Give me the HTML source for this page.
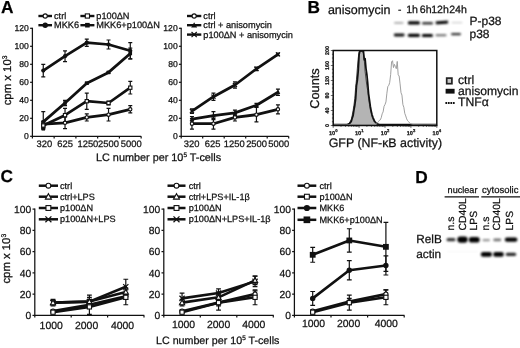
<!DOCTYPE html>
<html><head><meta charset="utf-8"><title>Figure</title>
<style>html,body{margin:0;padding:0;background:#fff;}body{width:520px;height:348px;overflow:hidden;font-family:"Liberation Sans",sans-serif;}svg{display:block;text-rendering:geometricPrecision;}text{stroke:#111;stroke-width:0.25px;}</style></head>
<body>
<svg width="520" height="348" viewBox="0 0 520 348" font-family="Liberation Sans, sans-serif">
<defs><filter id="b1" x="-20%" y="-100%" width="140%" height="300%"><feGaussianBlur stdDeviation="1.1 0.8"/></filter><filter id="b2" x="-20%" y="-100%" width="140%" height="300%"><feGaussianBlur stdDeviation="1.2 1.0"/></filter></defs>
<rect width="520" height="348" fill="#fff"/>
<g style="opacity:0.999">
<text x="0.9" y="12.8" font-size="17.3" text-anchor="start" font-weight="bold" fill="#000">A</text>
<text x="307.5" y="12.7" font-size="17.3" text-anchor="start" font-weight="bold" fill="#000">B</text>
<text x="0.6" y="182.3" font-size="17.3" text-anchor="start" font-weight="bold" fill="#000">C</text>
<text x="415.2" y="182.5" font-size="17.3" text-anchor="start" font-weight="bold" fill="#000">D</text>
<path d="M32.4 27.70000000000001 L32.4 136.3 L141.15 136.3" stroke="#111" stroke-width="1.25" fill="none"/>
<path d="M30.099999999999998 136.30 L32.4 136.30" stroke="#111" stroke-width="1.2"/>
<text x="28.9" y="139.4" font-size="8.6" text-anchor="end" font-weight="normal" fill="#111">0</text>
<path d="M30.099999999999998 118.30 L32.4 118.30" stroke="#111" stroke-width="1.2"/>
<text x="28.9" y="121.4" font-size="8.6" text-anchor="end" font-weight="normal" fill="#111">20</text>
<path d="M30.099999999999998 100.30 L32.4 100.30" stroke="#111" stroke-width="1.2"/>
<text x="28.9" y="103.4" font-size="8.6" text-anchor="end" font-weight="normal" fill="#111">40</text>
<path d="M30.099999999999998 82.30 L32.4 82.30" stroke="#111" stroke-width="1.2"/>
<text x="28.9" y="85.4" font-size="8.6" text-anchor="end" font-weight="normal" fill="#111">60</text>
<path d="M30.099999999999998 64.30 L32.4 64.30" stroke="#111" stroke-width="1.2"/>
<text x="28.9" y="67.4" font-size="8.6" text-anchor="end" font-weight="normal" fill="#111">80</text>
<path d="M30.099999999999998 46.30 L32.4 46.30" stroke="#111" stroke-width="1.2"/>
<text x="28.9" y="49.4" font-size="8.6" text-anchor="end" font-weight="normal" fill="#111">100</text>
<path d="M30.099999999999998 28.30 L32.4 28.30" stroke="#111" stroke-width="1.2"/>
<text x="28.9" y="31.4" font-size="8.6" text-anchor="end" font-weight="normal" fill="#111">120</text>
<path d="M32.40 136.3 L32.40 138.5" stroke="#111" stroke-width="1.2"/>
<path d="M54.15 136.3 L54.15 138.5" stroke="#111" stroke-width="1.2"/>
<path d="M75.90 136.3 L75.90 138.5" stroke="#111" stroke-width="1.2"/>
<path d="M97.65 136.3 L97.65 138.5" stroke="#111" stroke-width="1.2"/>
<path d="M119.40 136.3 L119.40 138.5" stroke="#111" stroke-width="1.2"/>
<path d="M141.15 136.3 L141.15 138.5" stroke="#111" stroke-width="1.2"/>
<text x="44.3" y="147" font-size="9.4" text-anchor="middle" font-weight="normal" fill="#111">320</text>
<text x="65.2" y="147" font-size="9.4" text-anchor="middle" font-weight="normal" fill="#111">625</text>
<text x="87.9" y="147" font-size="9.4" text-anchor="middle" font-weight="normal" fill="#111">1250</text>
<text x="108.5" y="147" font-size="9.4" text-anchor="middle" font-weight="normal" fill="#111">2500</text>
<text x="131.3" y="147" font-size="9.4" text-anchor="middle" font-weight="normal" fill="#111">5000</text>
<path d="M43.27 111.55 L43.27 127.75 M41.27 111.55 L45.27 111.55 M41.27 127.75 L45.27 127.75" stroke="#111" stroke-width="1.2" fill="none"/>
<path d="M65.03 116.95 L65.03 128.65 M63.03 116.95 L67.03 116.95 M63.03 128.65 L67.03 128.65" stroke="#111" stroke-width="1.2" fill="none"/>
<path d="M86.78 113.80 L86.78 121.00 M84.78 113.80 L88.78 113.80 M84.78 121.00 L88.78 121.00" stroke="#111" stroke-width="1.2" fill="none"/>
<path d="M108.53 108.40 L108.53 121.00 M106.53 108.40 L110.53 108.40 M106.53 121.00 L110.53 121.00" stroke="#111" stroke-width="1.2" fill="none"/>
<path d="M130.28 105.70 L130.28 112.90 M128.28 105.70 L132.28 105.70 M128.28 112.90 L132.28 112.90" stroke="#111" stroke-width="1.2" fill="none"/>
<path d="M43.27 124.15 L65.03 122.80 L86.78 117.40 L108.53 114.70 L130.28 109.30" stroke="#111" stroke-width="2.75" fill="none" stroke-linejoin="round" stroke-linecap="round"/>
<path d="M43.27 121.90 L43.27 129.10 M41.27 121.90 L45.27 121.90 M41.27 129.10 L45.27 129.10" stroke="#111" stroke-width="1.2" fill="none"/>
<path d="M65.03 108.40 L65.03 121.90 M63.03 108.40 L67.03 108.40 M63.03 121.90 L67.03 121.90" stroke="#111" stroke-width="1.2" fill="none"/>
<path d="M86.78 93.10 L86.78 109.30 M84.78 93.10 L88.78 93.10 M84.78 109.30 L88.78 109.30" stroke="#111" stroke-width="1.2" fill="none"/>
<path d="M108.53 101.20 L108.53 104.80 M106.53 101.20 L110.53 101.20 M106.53 104.80 L110.53 104.80" stroke="#111" stroke-width="1.2" fill="none"/>
<path d="M130.28 81.40 L130.28 94.00 M128.28 81.40 L132.28 81.40 M128.28 94.00 L132.28 94.00" stroke="#111" stroke-width="1.2" fill="none"/>
<path d="M43.27 125.50 L65.03 115.15 L86.78 101.20 L108.53 103.00 L130.28 87.70" stroke="#111" stroke-width="2.75" fill="none" stroke-linejoin="round" stroke-linecap="round"/>
<path d="M43.27 121.90 L43.27 128.65 M41.27 121.90 L45.27 121.90 M41.27 128.65 L45.27 128.65" stroke="#111" stroke-width="1.2" fill="none"/>
<path d="M65.03 100.30 L65.03 105.70 M63.03 100.30 L67.03 100.30 M63.03 105.70 L67.03 105.70" stroke="#111" stroke-width="1.2" fill="none"/>
<path d="M86.78 82.30 L86.78 84.10 M84.78 82.30 L88.78 82.30 M84.78 84.10 L88.78 84.10" stroke="#111" stroke-width="1.2" fill="none"/>
<path d="M108.53 71.50 L108.53 73.30 M106.53 71.50 L110.53 71.50 M106.53 73.30 L110.53 73.30" stroke="#111" stroke-width="1.2" fill="none"/>
<path d="M130.28 48.10 L130.28 58.90 M128.28 48.10 L132.28 48.10 M128.28 58.90 L132.28 58.90" stroke="#111" stroke-width="1.2" fill="none"/>
<path d="M43.27 121.90 L65.03 103.00 L86.78 83.20 L108.53 72.40 L130.28 53.50" stroke="#111" stroke-width="2.75" fill="none" stroke-linejoin="round" stroke-linecap="round"/>
<path d="M43.27 64.30 L43.27 76.90 M41.27 64.30 L45.27 64.30 M41.27 76.90 L45.27 76.90" stroke="#111" stroke-width="1.2" fill="none"/>
<path d="M65.03 50.80 L65.03 61.60 M63.03 50.80 L67.03 50.80 M63.03 61.60 L67.03 61.60" stroke="#111" stroke-width="1.2" fill="none"/>
<path d="M86.78 39.10 L86.78 46.30 M84.78 39.10 L88.78 39.10 M84.78 46.30 L88.78 46.30" stroke="#111" stroke-width="1.2" fill="none"/>
<path d="M108.53 40.00 L108.53 49.00 M106.53 40.00 L110.53 40.00 M106.53 49.00 L110.53 49.00" stroke="#111" stroke-width="1.2" fill="none"/>
<path d="M130.28 42.70 L130.28 58.90 M128.28 42.70 L132.28 42.70 M128.28 58.90 L132.28 58.90" stroke="#111" stroke-width="1.2" fill="none"/>
<path d="M43.27 70.60 L65.03 56.20 L86.78 42.70 L108.53 44.50 L130.28 50.80" stroke="#111" stroke-width="2.75" fill="none" stroke-linejoin="round" stroke-linecap="round"/>
<rect x="41.48" y="120.11" width="3.59" height="3.59" fill="#111"/>
<rect x="63.23" y="101.21" width="3.59" height="3.59" fill="#111"/>
<rect x="84.98" y="81.41" width="3.59" height="3.59" fill="#111"/>
<rect x="106.73" y="70.61" width="3.59" height="3.59" fill="#111"/>
<rect x="128.48" y="51.71" width="3.59" height="3.59" fill="#111"/>
<circle cx="43.27" cy="70.60" r="2.11" fill="#111"/>
<circle cx="65.03" cy="56.20" r="2.11" fill="#111"/>
<circle cx="86.78" cy="42.70" r="2.11" fill="#111"/>
<circle cx="108.53" cy="44.50" r="2.11" fill="#111"/>
<circle cx="130.28" cy="50.80" r="2.11" fill="#111"/>
<circle cx="43.27" cy="124.15" r="1.64" fill="#fff" stroke="#111" stroke-width="1.1"/>
<circle cx="65.03" cy="122.80" r="1.64" fill="#fff" stroke="#111" stroke-width="1.1"/>
<circle cx="86.78" cy="117.40" r="1.64" fill="#fff" stroke="#111" stroke-width="1.1"/>
<circle cx="108.53" cy="114.70" r="1.64" fill="#fff" stroke="#111" stroke-width="1.1"/>
<circle cx="130.28" cy="109.30" r="1.64" fill="#fff" stroke="#111" stroke-width="1.1"/>
<rect x="41.64" y="123.86" width="3.28" height="3.28" fill="#fff" stroke="#111" stroke-width="1.1"/>
<rect x="63.39" y="113.51" width="3.28" height="3.28" fill="#fff" stroke="#111" stroke-width="1.1"/>
<rect x="85.14" y="99.56" width="3.28" height="3.28" fill="#fff" stroke="#111" stroke-width="1.1"/>
<rect x="106.89" y="101.36" width="3.28" height="3.28" fill="#fff" stroke="#111" stroke-width="1.1"/>
<rect x="128.64" y="86.06" width="3.28" height="3.28" fill="#fff" stroke="#111" stroke-width="1.1"/>
<rect x="41.57" y="127.11" width="3.45" height="3.45" fill="#111"/>
<rect x="41.66" y="123.86" width="3.28" height="3.28" fill="#fff" stroke="#111" stroke-width="1.1"/>
<path d="M38.4 16.0 L52.0 16.0" stroke="#111" stroke-width="2.4"/>
<circle cx="45.20" cy="16.00" r="2.10" fill="#fff" stroke="#111" stroke-width="1.1"/>
<text x="54" y="19.13" font-size="9.2" text-anchor="start" font-weight="normal" fill="#111">ctrl</text>
<path d="M38.4 25.2 L52.0 25.2" stroke="#111" stroke-width="2.4"/>
<circle cx="45.20" cy="25.20" r="2.70" fill="#111"/>
<text x="54" y="28.33" font-size="9.2" text-anchor="start" font-weight="normal" fill="#111">MKK6</text>
<path d="M80.4 16.0 L94.4 16.0" stroke="#111" stroke-width="2.4"/>
<rect x="85.30" y="13.90" width="4.20" height="4.20" fill="#fff" stroke="#111" stroke-width="1.1"/>
<text x="96.3" y="19.13" font-size="9.2" text-anchor="start" font-weight="normal" fill="#111">p100ΔN</text>
<path d="M80.4 25.2 L94.4 25.2" stroke="#111" stroke-width="2.4"/>
<rect x="85.10" y="22.90" width="4.60" height="4.60" fill="#111"/>
<text x="96.3" y="28.33" font-size="9.2" text-anchor="start" font-weight="normal" fill="#111">MKK6+p100ΔN</text>
<text transform="translate(10.5 105.3) rotate(-90)" font-size="11.35" fill="#111">cpm x 10<tspan font-size="6.8" dy="-4">3</tspan></text>
<text x="96.0" y="160.8" font-size="10.85" fill="#111">LC number per 10<tspan font-size="6.4" dy="-4">5</tspan><tspan dy="4"> T-cells</tspan></text>
<path d="M181.2 27.70000000000001 L181.2 136.3 L288.7 136.3" stroke="#111" stroke-width="1.25" fill="none"/>
<path d="M178.9 136.30 L181.2 136.30" stroke="#111" stroke-width="1.2"/>
<text x="177.7" y="139.4" font-size="8.6" text-anchor="end" font-weight="normal" fill="#111">0</text>
<path d="M178.9 118.30 L181.2 118.30" stroke="#111" stroke-width="1.2"/>
<text x="177.7" y="121.4" font-size="8.6" text-anchor="end" font-weight="normal" fill="#111">20</text>
<path d="M178.9 100.30 L181.2 100.30" stroke="#111" stroke-width="1.2"/>
<text x="177.7" y="103.4" font-size="8.6" text-anchor="end" font-weight="normal" fill="#111">40</text>
<path d="M178.9 82.30 L181.2 82.30" stroke="#111" stroke-width="1.2"/>
<text x="177.7" y="85.4" font-size="8.6" text-anchor="end" font-weight="normal" fill="#111">60</text>
<path d="M178.9 64.30 L181.2 64.30" stroke="#111" stroke-width="1.2"/>
<text x="177.7" y="67.4" font-size="8.6" text-anchor="end" font-weight="normal" fill="#111">80</text>
<path d="M178.9 46.30 L181.2 46.30" stroke="#111" stroke-width="1.2"/>
<text x="177.7" y="49.4" font-size="8.6" text-anchor="end" font-weight="normal" fill="#111">100</text>
<path d="M178.9 28.30 L181.2 28.30" stroke="#111" stroke-width="1.2"/>
<text x="177.7" y="31.4" font-size="8.6" text-anchor="end" font-weight="normal" fill="#111">120</text>
<path d="M181.20 136.3 L181.20 138.5" stroke="#111" stroke-width="1.2"/>
<path d="M202.70 136.3 L202.70 138.5" stroke="#111" stroke-width="1.2"/>
<path d="M224.20 136.3 L224.20 138.5" stroke="#111" stroke-width="1.2"/>
<path d="M245.70 136.3 L245.70 138.5" stroke="#111" stroke-width="1.2"/>
<path d="M267.20 136.3 L267.20 138.5" stroke="#111" stroke-width="1.2"/>
<path d="M288.70 136.3 L288.70 138.5" stroke="#111" stroke-width="1.2"/>
<text x="191.7" y="147" font-size="9.4" text-anchor="middle" font-weight="normal" fill="#111">320</text>
<text x="212.6" y="147" font-size="9.4" text-anchor="middle" font-weight="normal" fill="#111">625</text>
<text x="234.2" y="147" font-size="9.4" text-anchor="middle" font-weight="normal" fill="#111">1250</text>
<text x="256.6" y="147" font-size="9.4" text-anchor="middle" font-weight="normal" fill="#111">2500</text>
<text x="278.7" y="147" font-size="9.4" text-anchor="middle" font-weight="normal" fill="#111">5000</text>
<path d="M191.95 118.30 L191.95 129.10 M189.95 118.30 L193.95 118.30 M189.95 129.10 L193.95 129.10" stroke="#111" stroke-width="1.2" fill="none"/>
<path d="M213.45 118.30 L213.45 129.10 M211.45 118.30 L215.45 118.30 M211.45 129.10 L215.45 129.10" stroke="#111" stroke-width="1.2" fill="none"/>
<path d="M234.95 113.80 L234.95 121.00 M232.95 113.80 L236.95 113.80 M232.95 121.00 L236.95 121.00" stroke="#111" stroke-width="1.2" fill="none"/>
<path d="M256.45 107.50 L256.45 121.90 M254.45 107.50 L258.45 107.50 M254.45 121.90 L258.45 121.90" stroke="#111" stroke-width="1.2" fill="none"/>
<path d="M277.95 104.80 L277.95 113.80 M275.95 104.80 L279.95 104.80 M275.95 113.80 L279.95 113.80" stroke="#111" stroke-width="1.2" fill="none"/>
<path d="M191.95 123.70 L213.45 123.70 L234.95 117.40 L256.45 114.70 L277.95 109.30" stroke="#111" stroke-width="2.75" fill="none" stroke-linejoin="round" stroke-linecap="round"/>
<path d="M191.95 116.50 L191.95 121.90 M189.95 116.50 L193.95 116.50 M189.95 121.90 L193.95 121.90" stroke="#111" stroke-width="1.2" fill="none"/>
<path d="M213.45 111.55 L213.45 119.65 M211.45 111.55 L215.45 111.55 M211.45 119.65 L215.45 119.65" stroke="#111" stroke-width="1.2" fill="none"/>
<path d="M234.95 110.20 L234.95 115.60 M232.95 110.20 L236.95 110.20 M232.95 115.60 L236.95 115.60" stroke="#111" stroke-width="1.2" fill="none"/>
<path d="M256.45 103.45 L256.45 107.05 M254.45 103.45 L258.45 103.45 M254.45 107.05 L258.45 107.05" stroke="#111" stroke-width="1.2" fill="none"/>
<path d="M277.95 89.05 L277.95 95.35 M275.95 89.05 L279.95 89.05 M275.95 95.35 L279.95 95.35" stroke="#111" stroke-width="1.2" fill="none"/>
<path d="M191.95 119.20 L213.45 115.60 L234.95 112.90 L256.45 105.25 L277.95 92.20" stroke="#111" stroke-width="2.75" fill="none" stroke-linejoin="round" stroke-linecap="round"/>
<path d="M191.95 108.85 L191.95 113.35 M189.95 108.85 L193.95 108.85 M189.95 113.35 L193.95 113.35" stroke="#111" stroke-width="1.2" fill="none"/>
<path d="M213.45 93.10 L213.45 100.30 M211.45 93.10 L215.45 93.10 M211.45 100.30 L215.45 100.30" stroke="#111" stroke-width="1.2" fill="none"/>
<path d="M234.95 81.85 L234.95 88.15 M232.95 81.85 L236.95 81.85 M232.95 88.15 L236.95 88.15" stroke="#111" stroke-width="1.2" fill="none"/>
<path d="M256.45 67.00 L256.45 70.60 M254.45 67.00 L258.45 67.00 M254.45 70.60 L258.45 70.60" stroke="#111" stroke-width="1.2" fill="none"/>
<path d="M277.95 53.05 L277.95 55.75 M275.95 53.05 L279.95 53.05 M275.95 55.75 L279.95 55.75" stroke="#111" stroke-width="1.2" fill="none"/>
<path d="M191.95 111.10 L213.45 96.70 L234.95 85.00 L256.45 68.80 L277.95 54.40" stroke="#111" stroke-width="2.75" fill="none" stroke-linejoin="round" stroke-linecap="round"/>
<path d="M189.61 121.07 L194.29 121.07 L191.95 116.86 Z" fill="#111"/>
<path d="M211.11 117.47 L215.79 117.47 L213.45 113.26 Z" fill="#111"/>
<path d="M232.61 114.77 L237.29 114.77 L234.95 110.56 Z" fill="#111"/>
<path d="M254.11 107.12 L258.79 107.12 L256.45 102.91 Z" fill="#111"/>
<path d="M275.61 94.07 L280.29 94.07 L277.95 89.86 Z" fill="#111"/>
<path d="M189.92 109.07 L193.98 113.13 M189.92 113.13 L193.98 109.07" stroke="#111" stroke-width="1.2" fill="none"/>
<path d="M211.42 94.67 L215.48 98.73 M211.42 98.73 L215.48 94.67" stroke="#111" stroke-width="1.2" fill="none"/>
<path d="M232.92 82.97 L236.98 87.03 M232.92 87.03 L236.98 82.97" stroke="#111" stroke-width="1.2" fill="none"/>
<path d="M254.42 66.77 L258.48 70.83 M254.42 70.83 L258.48 66.77" stroke="#111" stroke-width="1.2" fill="none"/>
<path d="M275.92 52.37 L279.98 56.43 M275.92 56.43 L279.98 52.37" stroke="#111" stroke-width="1.2" fill="none"/>
<circle cx="191.95" cy="123.70" r="1.64" fill="#fff" stroke="#111" stroke-width="1.1"/>
<circle cx="213.45" cy="123.70" r="1.64" fill="#fff" stroke="#111" stroke-width="1.1"/>
<circle cx="234.95" cy="117.40" r="1.64" fill="#fff" stroke="#111" stroke-width="1.1"/>
<circle cx="256.45" cy="114.70" r="1.64" fill="#fff" stroke="#111" stroke-width="1.1"/>
<circle cx="277.95" cy="109.30" r="1.64" fill="#fff" stroke="#111" stroke-width="1.1"/>
<path d="M187 16.0 L201.3 16.0" stroke="#111" stroke-width="2.4"/>
<circle cx="194.15" cy="16.00" r="2.10" fill="#fff" stroke="#111" stroke-width="1.1"/>
<text x="203.3" y="19.13" font-size="9.2" text-anchor="start" font-weight="normal" fill="#111">ctrl</text>
<path d="M187 25.2 L201.3 25.2" stroke="#111" stroke-width="2.4"/>
<path d="M191.15 27.60 L197.15 27.60 L194.15 22.20 Z" fill="#111"/>
<text x="203.3" y="28.33" font-size="9.2" text-anchor="start" font-weight="normal" fill="#111">ctrl + anisomycin</text>
<path d="M187 34.6 L201.3 34.6" stroke="#111" stroke-width="2.4"/>
<path d="M191.55 32.00 L196.75 37.20 M191.55 37.20 L196.75 32.00" stroke="#111" stroke-width="1.2" fill="none"/>
<text x="203.3" y="37.73" font-size="9.2" text-anchor="start" font-weight="normal" fill="#111">p100ΔN + anisomycin</text>
<path d="M34.8 208.49999999999997 L34.8 315.4 L144.3 315.4" stroke="#111" stroke-width="1.25" fill="none"/>
<path d="M32.49999999999999 315.40 L34.8 315.40" stroke="#111" stroke-width="1.2"/>
<text x="31.299999999999997" y="319.11" font-size="10.3" text-anchor="end" font-weight="normal" fill="#111">0</text>
<path d="M32.49999999999999 294.14 L34.8 294.14" stroke="#111" stroke-width="1.2"/>
<text x="31.299999999999997" y="297.85" font-size="10.3" text-anchor="end" font-weight="normal" fill="#111">20</text>
<path d="M32.49999999999999 272.88 L34.8 272.88" stroke="#111" stroke-width="1.2"/>
<text x="31.299999999999997" y="276.59" font-size="10.3" text-anchor="end" font-weight="normal" fill="#111">40</text>
<path d="M32.49999999999999 251.62 L34.8 251.62" stroke="#111" stroke-width="1.2"/>
<text x="31.299999999999997" y="255.33" font-size="10.3" text-anchor="end" font-weight="normal" fill="#111">60</text>
<path d="M32.49999999999999 230.36 L34.8 230.36" stroke="#111" stroke-width="1.2"/>
<text x="31.299999999999997" y="234.07" font-size="10.3" text-anchor="end" font-weight="normal" fill="#111">80</text>
<path d="M32.49999999999999 209.10 L34.8 209.10" stroke="#111" stroke-width="1.2"/>
<text x="31.299999999999997" y="212.81" font-size="10.3" text-anchor="end" font-weight="normal" fill="#111">100</text>
<path d="M34.80 315.4 L34.80 317.59999999999997" stroke="#111" stroke-width="1.2"/>
<path d="M71.20 315.4 L71.20 317.59999999999997" stroke="#111" stroke-width="1.2"/>
<path d="M107.60 315.4 L107.60 317.59999999999997" stroke="#111" stroke-width="1.2"/>
<path d="M144.00 315.4 L144.00 317.59999999999997" stroke="#111" stroke-width="1.2"/>
<text x="51.2" y="328.7" font-size="10.45" text-anchor="middle" font-weight="normal" fill="#111">1000</text>
<text x="86.6" y="328.7" font-size="10.45" text-anchor="middle" font-weight="normal" fill="#111">2000</text>
<text x="122.5" y="328.7" font-size="10.45" text-anchor="middle" font-weight="normal" fill="#111">4000</text>
<path d="M53.00 310.08 L53.00 312.21 M50.60 310.08 L55.40 310.08 M50.60 312.21 L55.40 312.21" stroke="#111" stroke-width="1.2" fill="none"/>
<path d="M89.40 301.58 L89.40 307.96 M87.00 301.58 L91.80 301.58 M87.00 307.96 L91.80 307.96" stroke="#111" stroke-width="1.2" fill="none"/>
<path d="M125.80 293.08 L125.80 299.45 M123.40 293.08 L128.20 293.08 M123.40 299.45 L128.20 299.45" stroke="#111" stroke-width="1.2" fill="none"/>
<path d="M53.00 311.15 L89.40 304.77 L125.80 296.27" stroke="#111" stroke-width="2.6" fill="none" stroke-linejoin="round" stroke-linecap="round"/>
<path d="M53.00 311.15 L53.00 313.27 M50.60 311.15 L55.40 311.15 M50.60 313.27 L55.40 313.27" stroke="#111" stroke-width="1.2" fill="none"/>
<path d="M89.40 299.45 L89.40 314.34 M87.00 299.45 L91.80 299.45 M87.00 314.34 L91.80 314.34" stroke="#111" stroke-width="1.2" fill="none"/>
<path d="M125.80 289.89 L125.80 304.77 M123.40 289.89 L128.20 289.89 M123.40 304.77 L128.20 304.77" stroke="#111" stroke-width="1.2" fill="none"/>
<path d="M53.00 312.21 L89.40 306.90 L125.80 297.33" stroke="#111" stroke-width="2.6" fill="none" stroke-linejoin="round" stroke-linecap="round"/>
<path d="M53.00 300.52 L53.00 304.77 M50.60 300.52 L55.40 300.52 M50.60 304.77 L55.40 304.77" stroke="#111" stroke-width="1.2" fill="none"/>
<path d="M89.40 297.33 L89.40 305.83 M87.00 297.33 L91.80 297.33 M87.00 305.83 L91.80 305.83" stroke="#111" stroke-width="1.2" fill="none"/>
<path d="M125.80 287.76 L125.80 296.27 M123.40 287.76 L128.20 287.76 M123.40 296.27 L128.20 296.27" stroke="#111" stroke-width="1.2" fill="none"/>
<path d="M53.00 302.64 L89.40 301.58 L125.80 292.01" stroke="#111" stroke-width="2.6" fill="none" stroke-linejoin="round" stroke-linecap="round"/>
<path d="M53.00 299.45 L53.00 305.83 M50.60 299.45 L55.40 299.45 M50.60 305.83 L55.40 305.83" stroke="#111" stroke-width="1.2" fill="none"/>
<path d="M89.40 295.20 L89.40 307.96 M87.00 295.20 L91.80 295.20 M87.00 307.96 L91.80 307.96" stroke="#111" stroke-width="1.2" fill="none"/>
<path d="M125.80 279.26 L125.80 294.14 M123.40 279.26 L128.20 279.26 M123.40 294.14 L128.20 294.14" stroke="#111" stroke-width="1.2" fill="none"/>
<path d="M53.00 302.64 L89.40 301.58 L125.80 286.70" stroke="#111" stroke-width="2.6" fill="none" stroke-linejoin="round" stroke-linecap="round"/>
<path d="M50.40 300.04 L55.60 305.24 M50.40 305.24 L55.60 300.04" stroke="#111" stroke-width="1.2" fill="none"/>
<path d="M86.80 298.98 L92.00 304.18 M86.80 304.18 L92.00 298.98" stroke="#111" stroke-width="1.2" fill="none"/>
<path d="M123.20 284.10 L128.40 289.30 M123.20 289.30 L128.40 284.10" stroke="#111" stroke-width="1.2" fill="none"/>
<circle cx="53.00" cy="311.15" r="2.10" fill="#fff" stroke="#111" stroke-width="1.1"/>
<circle cx="89.40" cy="304.77" r="2.10" fill="#fff" stroke="#111" stroke-width="1.1"/>
<circle cx="125.80" cy="296.27" r="2.10" fill="#fff" stroke="#111" stroke-width="1.1"/>
<rect x="50.90" y="310.11" width="4.20" height="4.20" fill="#fff" stroke="#111" stroke-width="1.1"/>
<rect x="87.30" y="304.80" width="4.20" height="4.20" fill="#fff" stroke="#111" stroke-width="1.1"/>
<rect x="123.70" y="295.23" width="4.20" height="4.20" fill="#fff" stroke="#111" stroke-width="1.1"/>
<path d="M50.40 304.72 L55.60 304.72 L53.00 300.04 Z" fill="#fff" stroke="#111" stroke-width="1.1"/>
<path d="M86.80 303.66 L92.00 303.66 L89.40 298.98 Z" fill="#fff" stroke="#111" stroke-width="1.1"/>
<path d="M123.20 294.09 L128.40 294.09 L125.80 289.41 Z" fill="#fff" stroke="#111" stroke-width="1.1"/>
<path d="M38.8 185.7 L58 185.7" stroke="#111" stroke-width="2.5"/>
<circle cx="48.40" cy="185.70" r="2.42" fill="#fff" stroke="#111" stroke-width="1.1"/>
<text x="60" y="188.81" font-size="9.15" text-anchor="start" font-weight="normal" fill="#111">ctrl</text>
<path d="M38.8 196.7 L58 196.7" stroke="#111" stroke-width="2.5"/>
<path d="M45.41 199.09 L51.39 199.09 L48.40 193.71 Z" fill="#fff" stroke="#111" stroke-width="1.1"/>
<text x="60" y="199.81" font-size="9.15" text-anchor="start" font-weight="normal" fill="#111">ctrl+LPS</text>
<path d="M38.8 208 L58 208" stroke="#111" stroke-width="2.5"/>
<rect x="45.98" y="205.59" width="4.83" height="4.83" fill="#fff" stroke="#111" stroke-width="1.1"/>
<text x="60" y="211.11" font-size="9.15" text-anchor="start" font-weight="normal" fill="#111">p100ΔN</text>
<path d="M38.8 219.3 L58 219.3" stroke="#111" stroke-width="2.5"/>
<path d="M45.41 216.31 L51.39 222.29 M45.41 222.29 L51.39 216.31" stroke="#111" stroke-width="1.2" fill="none"/>
<text x="60" y="222.41" font-size="9.15" text-anchor="start" font-weight="normal" fill="#111">p100ΔN+LPS</text>
<text transform="translate(10.4 283.6) rotate(-90)" font-size="11.35" fill="#111">cpm x 10<tspan font-size="6.8" dy="-4">3</tspan></text>
<path d="M163.8 208.49999999999997 L163.8 315.4 L273.8 315.4" stroke="#111" stroke-width="1.25" fill="none"/>
<path d="M161.50000000000003 315.40 L163.8 315.40" stroke="#111" stroke-width="1.2"/>
<text x="160.3" y="319.11" font-size="10.3" text-anchor="end" font-weight="normal" fill="#111">0</text>
<path d="M161.50000000000003 294.14 L163.8 294.14" stroke="#111" stroke-width="1.2"/>
<text x="160.3" y="297.85" font-size="10.3" text-anchor="end" font-weight="normal" fill="#111">20</text>
<path d="M161.50000000000003 272.88 L163.8 272.88" stroke="#111" stroke-width="1.2"/>
<text x="160.3" y="276.59" font-size="10.3" text-anchor="end" font-weight="normal" fill="#111">40</text>
<path d="M161.50000000000003 251.62 L163.8 251.62" stroke="#111" stroke-width="1.2"/>
<text x="160.3" y="255.33" font-size="10.3" text-anchor="end" font-weight="normal" fill="#111">60</text>
<path d="M161.50000000000003 230.36 L163.8 230.36" stroke="#111" stroke-width="1.2"/>
<text x="160.3" y="234.07" font-size="10.3" text-anchor="end" font-weight="normal" fill="#111">80</text>
<path d="M161.50000000000003 209.10 L163.8 209.10" stroke="#111" stroke-width="1.2"/>
<text x="160.3" y="212.81" font-size="10.3" text-anchor="end" font-weight="normal" fill="#111">100</text>
<path d="M163.80 315.4 L163.80 317.59999999999997" stroke="#111" stroke-width="1.2"/>
<path d="M200.30 315.4 L200.30 317.59999999999997" stroke="#111" stroke-width="1.2"/>
<path d="M236.80 315.4 L236.80 317.59999999999997" stroke="#111" stroke-width="1.2"/>
<path d="M273.30 315.4 L273.30 317.59999999999997" stroke="#111" stroke-width="1.2"/>
<text x="183.5" y="327.5" font-size="10.45" text-anchor="middle" font-weight="normal" fill="#111">1000</text>
<text x="218.6" y="327.5" font-size="10.45" text-anchor="middle" font-weight="normal" fill="#111">2000</text>
<text x="253.8" y="327.5" font-size="10.45" text-anchor="middle" font-weight="normal" fill="#111">4000</text>
<path d="M182.05 310.08 L182.05 312.21 M179.65 310.08 L184.45 310.08 M179.65 312.21 L184.45 312.21" stroke="#111" stroke-width="1.2" fill="none"/>
<path d="M218.55 299.45 L218.55 305.83 M216.15 299.45 L220.95 299.45 M216.15 305.83 L220.95 305.83" stroke="#111" stroke-width="1.2" fill="none"/>
<path d="M255.05 290.95 L255.05 297.33 M252.65 290.95 L257.45 290.95 M252.65 297.33 L257.45 297.33" stroke="#111" stroke-width="1.2" fill="none"/>
<path d="M182.05 311.15 L218.55 302.64 L255.05 294.14" stroke="#111" stroke-width="2.6" fill="none" stroke-linejoin="round" stroke-linecap="round"/>
<path d="M182.05 311.15 L182.05 313.27 M179.65 311.15 L184.45 311.15 M179.65 313.27 L184.45 313.27" stroke="#111" stroke-width="1.2" fill="none"/>
<path d="M218.55 295.20 L218.55 310.08 M216.15 295.20 L220.95 295.20 M216.15 310.08 L220.95 310.08" stroke="#111" stroke-width="1.2" fill="none"/>
<path d="M255.05 289.89 L255.05 304.77 M252.65 289.89 L257.45 289.89 M252.65 304.77 L257.45 304.77" stroke="#111" stroke-width="1.2" fill="none"/>
<path d="M182.05 312.21 L218.55 302.64 L255.05 297.33" stroke="#111" stroke-width="2.6" fill="none" stroke-linejoin="round" stroke-linecap="round"/>
<path d="M182.05 299.45 L182.05 305.83 M179.65 299.45 L184.45 299.45 M179.65 305.83 L184.45 305.83" stroke="#111" stroke-width="1.2" fill="none"/>
<path d="M218.55 293.08 L218.55 301.58 M216.15 293.08 L220.95 293.08 M216.15 301.58 L220.95 301.58" stroke="#111" stroke-width="1.2" fill="none"/>
<path d="M255.05 276.07 L255.05 284.57 M252.65 276.07 L257.45 276.07 M252.65 284.57 L257.45 284.57" stroke="#111" stroke-width="1.2" fill="none"/>
<path d="M182.05 302.64 L218.55 297.33 L255.05 280.32" stroke="#111" stroke-width="2.6" fill="none" stroke-linejoin="round" stroke-linecap="round"/>
<path d="M182.05 293.08 L182.05 303.71 M179.65 293.08 L184.45 293.08 M179.65 303.71 L184.45 303.71" stroke="#111" stroke-width="1.2" fill="none"/>
<path d="M218.55 288.82 L218.55 297.33 M216.15 288.82 L220.95 288.82 M216.15 297.33 L220.95 297.33" stroke="#111" stroke-width="1.2" fill="none"/>
<path d="M255.05 276.07 L255.05 286.70 M252.65 276.07 L257.45 276.07 M252.65 286.70 L257.45 286.70" stroke="#111" stroke-width="1.2" fill="none"/>
<path d="M182.05 298.39 L218.55 293.08 L255.05 281.38" stroke="#111" stroke-width="2.6" fill="none" stroke-linejoin="round" stroke-linecap="round"/>
<path d="M179.45 295.79 L184.65 300.99 M179.45 300.99 L184.65 295.79" stroke="#111" stroke-width="1.2" fill="none"/>
<path d="M215.95 290.48 L221.15 295.68 M215.95 295.68 L221.15 290.48" stroke="#111" stroke-width="1.2" fill="none"/>
<path d="M252.45 278.78 L257.65 283.98 M252.45 283.98 L257.65 278.78" stroke="#111" stroke-width="1.2" fill="none"/>
<circle cx="182.05" cy="311.15" r="2.10" fill="#fff" stroke="#111" stroke-width="1.1"/>
<circle cx="218.55" cy="302.64" r="2.10" fill="#fff" stroke="#111" stroke-width="1.1"/>
<circle cx="255.05" cy="294.14" r="2.10" fill="#fff" stroke="#111" stroke-width="1.1"/>
<rect x="179.95" y="310.11" width="4.20" height="4.20" fill="#fff" stroke="#111" stroke-width="1.1"/>
<rect x="216.45" y="300.54" width="4.20" height="4.20" fill="#fff" stroke="#111" stroke-width="1.1"/>
<rect x="252.95" y="295.23" width="4.20" height="4.20" fill="#fff" stroke="#111" stroke-width="1.1"/>
<path d="M179.45 304.72 L184.65 304.72 L182.05 300.04 Z" fill="#fff" stroke="#111" stroke-width="1.1"/>
<path d="M215.95 299.41 L221.15 299.41 L218.55 294.73 Z" fill="#fff" stroke="#111" stroke-width="1.1"/>
<path d="M252.45 282.40 L257.65 282.40 L255.05 277.72 Z" fill="#fff" stroke="#111" stroke-width="1.1"/>
<path d="M167.5 185.7 L185.5 185.7" stroke="#111" stroke-width="2.5"/>
<circle cx="176.50" cy="185.70" r="2.42" fill="#fff" stroke="#111" stroke-width="1.1"/>
<text x="188.7" y="188.81" font-size="9.15" text-anchor="start" font-weight="normal" fill="#111">ctrl</text>
<path d="M167.5 196.7 L185.5 196.7" stroke="#111" stroke-width="2.5"/>
<path d="M173.51 199.09 L179.49 199.09 L176.50 193.71 Z" fill="#fff" stroke="#111" stroke-width="1.1"/>
<text x="188.7" y="199.81" font-size="9.15" text-anchor="start" font-weight="normal" fill="#111">ctrl+LPS+IL-1β</text>
<path d="M167.5 208 L185.5 208" stroke="#111" stroke-width="2.5"/>
<rect x="174.09" y="205.59" width="4.83" height="4.83" fill="#fff" stroke="#111" stroke-width="1.1"/>
<text x="188.7" y="211.11" font-size="9.15" text-anchor="start" font-weight="normal" fill="#111">p100ΔN</text>
<path d="M167.5 219.3 L185.5 219.3" stroke="#111" stroke-width="2.5"/>
<path d="M173.51 216.31 L179.49 222.29 M173.51 222.29 L179.49 216.31" stroke="#111" stroke-width="1.2" fill="none"/>
<text x="188.7" y="222.41" font-size="9.15" text-anchor="start" font-weight="normal" fill="#111">p100ΔN+LPS+IL-1β</text>
<text x="156.0" y="343.6" font-size="10.7" fill="#111">LC number per 10<tspan font-size="6.4" dy="-4">5</tspan><tspan dy="4"> T-cells</tspan></text>
<path d="M294.4 208.49999999999997 L294.4 315.4 L404.5 315.4" stroke="#111" stroke-width="1.25" fill="none"/>
<path d="M292.09999999999997 315.40 L294.4 315.40" stroke="#111" stroke-width="1.2"/>
<text x="290.9" y="319.11" font-size="10.3" text-anchor="end" font-weight="normal" fill="#111">0</text>
<path d="M292.09999999999997 294.14 L294.4 294.14" stroke="#111" stroke-width="1.2"/>
<text x="290.9" y="297.85" font-size="10.3" text-anchor="end" font-weight="normal" fill="#111">20</text>
<path d="M292.09999999999997 272.88 L294.4 272.88" stroke="#111" stroke-width="1.2"/>
<text x="290.9" y="276.59" font-size="10.3" text-anchor="end" font-weight="normal" fill="#111">40</text>
<path d="M292.09999999999997 251.62 L294.4 251.62" stroke="#111" stroke-width="1.2"/>
<text x="290.9" y="255.33" font-size="10.3" text-anchor="end" font-weight="normal" fill="#111">60</text>
<path d="M292.09999999999997 230.36 L294.4 230.36" stroke="#111" stroke-width="1.2"/>
<text x="290.9" y="234.07" font-size="10.3" text-anchor="end" font-weight="normal" fill="#111">80</text>
<path d="M292.09999999999997 209.10 L294.4 209.10" stroke="#111" stroke-width="1.2"/>
<text x="290.9" y="212.81" font-size="10.3" text-anchor="end" font-weight="normal" fill="#111">100</text>
<path d="M294.40 315.4 L294.40 317.59999999999997" stroke="#111" stroke-width="1.2"/>
<path d="M331.00 315.4 L331.00 317.59999999999997" stroke="#111" stroke-width="1.2"/>
<path d="M367.60 315.4 L367.60 317.59999999999997" stroke="#111" stroke-width="1.2"/>
<path d="M404.20 315.4 L404.20 317.59999999999997" stroke="#111" stroke-width="1.2"/>
<text x="313.5" y="327.1" font-size="10.45" text-anchor="middle" font-weight="normal" fill="#111">1000</text>
<text x="348.6" y="327.1" font-size="10.45" text-anchor="middle" font-weight="normal" fill="#111">2000</text>
<text x="386.3" y="327.1" font-size="10.45" text-anchor="middle" font-weight="normal" fill="#111">4000</text>
<path d="M312.70 310.08 L312.70 312.21 M310.30 310.08 L315.10 310.08 M310.30 312.21 L315.10 312.21" stroke="#111" stroke-width="1.2" fill="none"/>
<path d="M349.30 298.39 L349.30 304.77 M346.90 298.39 L351.70 298.39 M346.90 304.77 L351.70 304.77" stroke="#111" stroke-width="1.2" fill="none"/>
<path d="M385.90 289.89 L385.90 298.39 M383.50 289.89 L388.30 289.89 M383.50 298.39 L388.30 298.39" stroke="#111" stroke-width="1.2" fill="none"/>
<path d="M312.70 311.15 L349.30 301.58 L385.90 294.14" stroke="#111" stroke-width="2.6" fill="none" stroke-linejoin="round" stroke-linecap="round"/>
<path d="M312.70 311.15 L312.70 313.27 M310.30 311.15 L315.10 311.15 M310.30 313.27 L315.10 313.27" stroke="#111" stroke-width="1.2" fill="none"/>
<path d="M349.30 295.20 L349.30 310.08 M346.90 295.20 L351.70 295.20 M346.90 310.08 L351.70 310.08" stroke="#111" stroke-width="1.2" fill="none"/>
<path d="M385.90 289.89 L385.90 304.77 M383.50 289.89 L388.30 289.89 M383.50 304.77 L388.30 304.77" stroke="#111" stroke-width="1.2" fill="none"/>
<path d="M312.70 312.21 L349.30 302.64 L385.90 297.33" stroke="#111" stroke-width="2.6" fill="none" stroke-linejoin="round" stroke-linecap="round"/>
<path d="M312.70 291.48 L312.70 305.30 M310.30 291.48 L315.10 291.48 M310.30 305.30 L315.10 305.30" stroke="#111" stroke-width="1.2" fill="none"/>
<path d="M349.30 260.66 L349.30 279.79 M346.90 260.66 L351.70 260.66 M346.90 279.79 L351.70 279.79" stroke="#111" stroke-width="1.2" fill="none"/>
<path d="M385.90 255.87 L385.90 275.01 M383.50 255.87 L388.30 255.87 M383.50 275.01 L388.30 275.01" stroke="#111" stroke-width="1.2" fill="none"/>
<path d="M312.70 298.39 L349.30 270.22 L385.90 265.44" stroke="#111" stroke-width="2.6" fill="none" stroke-linejoin="round" stroke-linecap="round"/>
<path d="M312.70 247.37 L312.70 262.25 M310.30 247.37 L315.10 247.37 M310.30 262.25 L315.10 262.25" stroke="#111" stroke-width="1.2" fill="none"/>
<path d="M349.30 228.77 L349.30 252.15 M346.90 228.77 L351.70 228.77 M346.90 252.15 L351.70 252.15" stroke="#111" stroke-width="1.2" fill="none"/>
<path d="M385.90 222.39 L385.90 271.29 M383.50 222.39 L388.30 222.39 M383.50 271.29 L388.30 271.29" stroke="#111" stroke-width="1.2" fill="none"/>
<path d="M312.70 254.81 L349.30 240.46 L385.90 246.84" stroke="#111" stroke-width="2.6" fill="none" stroke-linejoin="round" stroke-linecap="round"/>
<circle cx="312.70" cy="298.39" r="2.70" fill="#111"/>
<circle cx="349.30" cy="270.22" r="2.70" fill="#111"/>
<circle cx="385.90" cy="265.44" r="2.70" fill="#111"/>
<rect x="309.80" y="251.91" width="5.80" height="5.80" fill="#111"/>
<rect x="346.40" y="237.56" width="5.80" height="5.80" fill="#111"/>
<rect x="383.00" y="243.94" width="5.80" height="5.80" fill="#111"/>
<circle cx="312.70" cy="311.15" r="2.10" fill="#fff" stroke="#111" stroke-width="1.1"/>
<circle cx="349.30" cy="301.58" r="2.10" fill="#fff" stroke="#111" stroke-width="1.1"/>
<circle cx="385.90" cy="294.14" r="2.10" fill="#fff" stroke="#111" stroke-width="1.1"/>
<rect x="310.60" y="310.11" width="4.20" height="4.20" fill="#fff" stroke="#111" stroke-width="1.1"/>
<rect x="347.20" y="300.54" width="4.20" height="4.20" fill="#fff" stroke="#111" stroke-width="1.1"/>
<rect x="383.80" y="295.23" width="4.20" height="4.20" fill="#fff" stroke="#111" stroke-width="1.1"/>
<path d="M297.5 185.7 L316.3 185.7" stroke="#111" stroke-width="2.5"/>
<circle cx="306.90" cy="185.70" r="2.42" fill="#fff" stroke="#111" stroke-width="1.1"/>
<text x="319.5" y="188.81" font-size="9.15" text-anchor="start" font-weight="normal" fill="#111">ctrl</text>
<path d="M297.5 196.7 L316.3 196.7" stroke="#111" stroke-width="2.5"/>
<rect x="304.48" y="194.28" width="4.83" height="4.83" fill="#fff" stroke="#111" stroke-width="1.1"/>
<text x="319.5" y="199.81" font-size="9.15" text-anchor="start" font-weight="normal" fill="#111">p100ΔN</text>
<path d="M297.5 208 L316.3 208" stroke="#111" stroke-width="2.5"/>
<circle cx="306.90" cy="208.00" r="3.10" fill="#111"/>
<text x="319.5" y="211.11" font-size="9.15" text-anchor="start" font-weight="normal" fill="#111">MKK6</text>
<path d="M297.5 219.8 L316.3 219.8" stroke="#111" stroke-width="2.5"/>
<rect x="303.56" y="216.47" width="6.67" height="6.67" fill="#111"/>
<text x="319.5" y="222.91" font-size="9.15" text-anchor="start" font-weight="normal" fill="#111">MKK6+p100ΔN</text>
<text x="327.9" y="13.8" font-size="12.5" text-anchor="start" font-weight="normal" fill="#111">anisomycin</text>
<text x="398" y="12.6" font-size="10.2" text-anchor="start" font-weight="normal" fill="#111">-</text>
<text x="406.2" y="12.7" font-size="10.6" text-anchor="start" font-weight="normal" fill="#111">1h</text>
<text x="419.8" y="12.7" font-size="10.6" text-anchor="start" font-weight="normal" fill="#111">6h</text>
<text x="431.2" y="12.7" font-size="10.6" text-anchor="start" font-weight="normal" fill="#111">12h</text>
<text x="449.2" y="12.7" font-size="10.6" text-anchor="start" font-weight="normal" fill="#111">24h</text>
<text x="469.5" y="25.2" font-size="12" text-anchor="start" font-weight="normal" fill="#111">P-p38</text>
<text x="469.5" y="37.6" font-size="12" text-anchor="start" font-weight="normal" fill="#111">p38</text>
<rect x="394" y="22.099999999999998" width="9.5" height="1.6" rx="0.8" fill="#000" opacity="0.35" filter="url(#b1)" transform="rotate(0 398.75 22.9)"/>
<rect x="407.8" y="21.299999999999997" width="12.199999999999989" height="3.2" rx="1.6" fill="#000" opacity="1" filter="url(#b1)" transform="rotate(0 413.9 22.9)"/>
<rect x="422" y="22.0" width="11" height="2.4" rx="1.2" fill="#000" opacity="0.8" filter="url(#b1)" transform="rotate(0 427.5 23.2)"/>
<rect x="435.5" y="21.1" width="12.800000000000011" height="2.8" rx="1.4" fill="#000" opacity="1" filter="url(#b1)" transform="rotate(-4 441.9 22.5)"/>
<rect x="451.5" y="21.900000000000002" width="11.0" height="1.4" rx="0.7" fill="#000" opacity="0.2" filter="url(#b1)" transform="rotate(0 457.0 22.6)"/>
<rect x="393.8" y="33.6" width="10.800000000000011" height="2.8" rx="1.4" fill="#000" opacity="0.95" filter="url(#b1)" transform="rotate(0 399.20000000000005 35.0)"/>
<rect x="407.8" y="33.699999999999996" width="12.199999999999989" height="3.2" rx="1.6" fill="#000" opacity="1" filter="url(#b1)" transform="rotate(0 413.9 35.3)"/>
<rect x="421.8" y="33.9" width="11.199999999999989" height="3.0" rx="1.5" fill="#000" opacity="1" filter="url(#b1)" transform="rotate(0 427.4 35.4)"/>
<rect x="435.5" y="34.25" width="11.0" height="1.9" rx="0.95" fill="#000" opacity="0.6" filter="url(#b1)" transform="rotate(0 441.0 35.2)"/>
<rect x="451" y="32.9" width="10" height="2.4" rx="1.2" fill="#000" opacity="0.8" filter="url(#b1)" transform="rotate(0 456.0 34.1)"/>
<path d="M333.20 124.70 L334.06 124.70 L334.93 124.70 L335.79 124.70 L336.65 124.70 L337.52 124.70 L338.38 124.70 L339.24 124.70 L340.11 124.70 L340.97 124.70 L341.83 124.70 L342.70 124.69 L343.56 124.69 L344.42 124.67 L345.29 124.63 L346.15 124.55 L347.01 124.38 L347.88 124.06 L348.74 123.55 L349.60 122.60 L350.47 121.12 L351.33 119.17 L352.19 115.37 L353.06 110.89 L353.92 105.35 L354.78 98.72 L355.65 87.34 L356.51 79.18 L357.37 68.14 L358.24 58.00 L359.10 51.71 L359.96 50.80 L360.83 50.80 L361.69 50.80 L362.55 51.75 L363.42 53.20 L364.28 60.02 L365.14 71.75 L366.01 78.87 L366.87 85.91 L367.73 90.56 L368.60 98.91 L369.46 104.34 L370.32 109.84 L371.19 113.56 L372.05 116.83 L372.91 119.24 L373.78 120.91 L374.64 122.20 L375.50 123.04 L376.37 123.69 L377.23 124.07 L378.09 124.33 L378.96 124.48 L379.82 124.58 L380.68 124.64 L381.55 124.66 L382.41 124.68 L383.27 124.69 L384.14 124.70 L385.00 124.70 L385.86 124.70 L386.73 124.70 L387.59 124.70 L388.45 124.70 L389.32 124.70 L390.18 124.70 L391.04 124.70 L391.91 124.70 L392.77 124.70 L393.63 124.70 L394.50 124.70 L395.36 124.70 L396.22 124.70 L397.09 124.70 L397.95 124.70 L398.81 124.70 L399.68 124.70 L400.54 124.70 L401.40 124.70 L402.27 124.70 L403.13 124.70 L403.99 124.70 L404.86 124.70 L405.72 124.70 L406.58 124.70 L407.45 124.70 L408.31 124.70 L409.17 124.70 L410.04 124.70 L410.90 124.70 L411.76 124.70 L412.63 124.70 L413.49 124.70 L414.35 124.70 L415.22 124.70 L416.08 124.70 L416.94 124.70 L417.81 124.70 L418.67 124.70 L419.53 124.70 L420.40 124.70 L421.26 124.70 L422.12 124.70 L422.99 124.70 L423.85 124.70 L424.71 124.70 L425.58 124.70 L426.44 124.70 L427.30 124.70 L428.17 124.70 L429.03 124.70 L429.89 124.70 L430.76 124.70 L431.62 124.70 L432.48 124.70 L433.35 124.70 L434.21 124.70 L435.07 124.70 L435.94 124.70 L436.80 124.70 L436.8 125.5 L333.2 125.5 Z" fill="#b4b4b4" stroke="#333" stroke-width="0.9"/>
<path d="M333.20 124.70 L334.06 124.70 L334.93 124.70 L335.79 124.70 L336.65 124.70 L337.52 124.70 L338.38 124.70 L339.24 124.70 L340.11 124.70 L340.97 124.70 L341.83 124.70 L342.70 124.70 L343.56 124.69 L344.42 124.69 L345.29 124.66 L346.15 124.62 L347.01 124.55 L347.88 124.38 L348.74 124.07 L349.60 123.40 L350.47 122.44 L351.33 121.19 L352.19 118.35 L353.06 115.76 L353.92 110.20 L354.78 105.49 L355.65 98.85 L356.51 85.53 L357.37 80.25 L358.24 70.97 L359.10 54.60 L359.96 50.80 L360.83 50.88 L361.69 50.80 L362.55 50.80 L363.42 50.80 L364.28 59.96 L365.14 58.72 L366.01 68.61 L366.87 74.41 L367.73 83.06 L368.60 93.80 L369.46 99.93 L370.32 106.18 L371.19 110.81 L372.05 114.67 L372.91 117.26 L373.78 119.28 L374.64 121.38 L375.50 122.26 L376.37 123.22 L377.23 123.78 L378.09 124.09 L378.96 124.36 L379.82 124.51 L380.68 124.59 L381.55 124.64 L382.41 124.67 L383.27 124.68 L384.14 124.69 L385.00 124.70 L385.86 124.70 L386.73 124.70 L387.59 124.70 L388.45 124.70 L389.32 124.70 L390.18 124.70 L391.04 124.70 L391.91 124.70 L392.77 124.70 L393.63 124.70 L394.50 124.70 L395.36 124.70 L396.22 124.70 L397.09 124.70 L397.95 124.70 L398.81 124.70 L399.68 124.70 L400.54 124.70 L401.40 124.70 L402.27 124.70 L403.13 124.70 L403.99 124.70 L404.86 124.70 L405.72 124.70 L406.58 124.70 L407.45 124.70 L408.31 124.70 L409.17 124.70 L410.04 124.70 L410.90 124.70 L411.76 124.70 L412.63 124.70 L413.49 124.70 L414.35 124.70 L415.22 124.70 L416.08 124.70 L416.94 124.70 L417.81 124.70 L418.67 124.70 L419.53 124.70 L420.40 124.70 L421.26 124.70 L422.12 124.70 L422.99 124.70 L423.85 124.70 L424.71 124.70 L425.58 124.70 L426.44 124.70 L427.30 124.70 L428.17 124.70 L429.03 124.70 L429.89 124.70 L430.76 124.70 L431.62 124.70 L432.48 124.70 L433.35 124.70 L434.21 124.70 L435.07 124.70 L435.94 124.70 L436.80 124.70" fill="none" stroke="#111" stroke-width="1.7" stroke-linejoin="round"/>
<path d="M333.20 124.70 L334.14 124.70 L335.08 124.70 L336.03 124.70 L336.97 124.70 L337.91 124.70 L338.85 124.70 L339.79 124.70 L340.73 124.70 L341.68 124.70 L342.62 124.70 L343.56 124.70 L344.50 124.70 L345.44 124.70 L346.39 124.70 L347.33 124.70 L348.27 124.70 L349.21 124.70 L350.15 124.70 L351.09 124.70 L352.04 124.70 L352.98 124.70 L353.92 124.70 L354.86 124.70 L355.80 124.70 L356.75 124.70 L357.69 124.70 L358.63 124.70 L359.57 124.70 L360.51 124.70 L361.45 124.70 L362.40 124.70 L363.34 124.70 L364.28 124.70 L365.22 124.70 L366.16 124.70 L367.11 124.69 L368.05 124.68 L368.99 124.67 L369.93 124.65 L370.87 124.62 L371.81 124.57 L372.76 124.48 L373.70 124.37 L374.64 124.09 L375.58 123.85 L376.52 123.28 L377.47 122.82 L378.41 121.60 L379.35 120.42 L380.29 119.88 L381.23 117.78 L382.17 113.83 L383.12 111.88 L384.06 106.29 L385.00 104.54 L385.94 101.93 L386.88 93.24 L387.83 86.34 L388.77 85.48 L389.71 82.37 L390.65 74.70 L391.59 61.80 L392.53 60.71 L393.48 67.59 L394.42 64.34 L395.36 66.53 L396.30 68.73 L397.24 61.44 L398.19 74.82 L399.13 76.01 L400.07 83.86 L401.01 92.69 L401.95 95.11 L402.89 104.60 L403.84 107.29 L404.78 113.39 L405.72 115.92 L406.66 118.89 L407.60 120.72 L408.55 121.62 L409.49 122.81 L410.43 123.67 L411.37 123.99 L412.31 124.35 L413.25 124.49 L414.20 124.57 L415.14 124.64 L416.08 124.67 L417.02 124.68 L417.96 124.69 L418.91 124.70 L419.85 124.70 L420.79 124.70 L421.73 124.70 L422.67 124.70 L423.61 124.70 L424.56 124.70 L425.50 124.70 L426.44 124.70 L427.38 124.70 L428.32 124.70 L429.27 124.70 L430.21 124.70 L431.15 124.70 L432.09 124.70 L433.03 124.70 L433.97 124.70 L434.92 124.70 L435.86 124.70 L436.80 124.70" fill="none" stroke="#9a9a9a" stroke-width="0.95" stroke-linejoin="round"/>
<rect x="333.2" y="50.5" width="103.60000000000002" height="75.0" fill="none" stroke="#111" stroke-width="1.5"/>
<path d="M333.20 125.5 L333.20 127.9" stroke="#111" stroke-width="0.6"/>
<path d="M341.00 125.5 L341.00 126.9" stroke="#111" stroke-width="0.6"/>
<path d="M345.56 125.5 L345.56 126.9" stroke="#111" stroke-width="0.6"/>
<path d="M348.79 125.5 L348.79 126.9" stroke="#111" stroke-width="0.6"/>
<path d="M351.30 125.5 L351.30 126.9" stroke="#111" stroke-width="0.6"/>
<path d="M353.35 125.5 L353.35 126.9" stroke="#111" stroke-width="0.6"/>
<path d="M355.09 125.5 L355.09 126.9" stroke="#111" stroke-width="0.6"/>
<path d="M356.59 125.5 L356.59 126.9" stroke="#111" stroke-width="0.6"/>
<path d="M357.91 125.5 L357.91 126.9" stroke="#111" stroke-width="0.6"/>
<path d="M359.10 125.5 L359.10 127.9" stroke="#111" stroke-width="0.6"/>
<path d="M366.90 125.5 L366.90 126.9" stroke="#111" stroke-width="0.6"/>
<path d="M371.46 125.5 L371.46 126.9" stroke="#111" stroke-width="0.6"/>
<path d="M374.69 125.5 L374.69 126.9" stroke="#111" stroke-width="0.6"/>
<path d="M377.20 125.5 L377.20 126.9" stroke="#111" stroke-width="0.6"/>
<path d="M379.25 125.5 L379.25 126.9" stroke="#111" stroke-width="0.6"/>
<path d="M380.99 125.5 L380.99 126.9" stroke="#111" stroke-width="0.6"/>
<path d="M382.49 125.5 L382.49 126.9" stroke="#111" stroke-width="0.6"/>
<path d="M383.81 125.5 L383.81 126.9" stroke="#111" stroke-width="0.6"/>
<path d="M385.00 125.5 L385.00 127.9" stroke="#111" stroke-width="0.6"/>
<path d="M392.80 125.5 L392.80 126.9" stroke="#111" stroke-width="0.6"/>
<path d="M397.36 125.5 L397.36 126.9" stroke="#111" stroke-width="0.6"/>
<path d="M400.59 125.5 L400.59 126.9" stroke="#111" stroke-width="0.6"/>
<path d="M403.10 125.5 L403.10 126.9" stroke="#111" stroke-width="0.6"/>
<path d="M405.15 125.5 L405.15 126.9" stroke="#111" stroke-width="0.6"/>
<path d="M406.89 125.5 L406.89 126.9" stroke="#111" stroke-width="0.6"/>
<path d="M408.39 125.5 L408.39 126.9" stroke="#111" stroke-width="0.6"/>
<path d="M409.71 125.5 L409.71 126.9" stroke="#111" stroke-width="0.6"/>
<path d="M410.90 125.5 L410.90 127.9" stroke="#111" stroke-width="0.6"/>
<path d="M418.70 125.5 L418.70 126.9" stroke="#111" stroke-width="0.6"/>
<path d="M423.26 125.5 L423.26 126.9" stroke="#111" stroke-width="0.6"/>
<path d="M426.49 125.5 L426.49 126.9" stroke="#111" stroke-width="0.6"/>
<path d="M429.00 125.5 L429.00 126.9" stroke="#111" stroke-width="0.6"/>
<path d="M431.05 125.5 L431.05 126.9" stroke="#111" stroke-width="0.6"/>
<path d="M432.79 125.5 L432.79 126.9" stroke="#111" stroke-width="0.6"/>
<path d="M434.29 125.5 L434.29 126.9" stroke="#111" stroke-width="0.6"/>
<path d="M435.61 125.5 L435.61 126.9" stroke="#111" stroke-width="0.6"/>
<path d="M436.8 125.5 L436.8 127.9" stroke="#111" stroke-width="0.6"/>
<path d="M330.80 125.50 L333.2 125.50" stroke="#111" stroke-width="0.6"/>
<path d="M331.90 121.75 L333.2 121.75" stroke="#111" stroke-width="0.6"/>
<path d="M331.90 118.00 L333.2 118.00" stroke="#111" stroke-width="0.6"/>
<path d="M331.90 114.25 L333.2 114.25" stroke="#111" stroke-width="0.6"/>
<path d="M330.80 110.50 L333.2 110.50" stroke="#111" stroke-width="0.6"/>
<path d="M331.90 106.75 L333.2 106.75" stroke="#111" stroke-width="0.6"/>
<path d="M331.90 103.00 L333.2 103.00" stroke="#111" stroke-width="0.6"/>
<path d="M331.90 99.25 L333.2 99.25" stroke="#111" stroke-width="0.6"/>
<path d="M330.80 95.50 L333.2 95.50" stroke="#111" stroke-width="0.6"/>
<path d="M331.90 91.75 L333.2 91.75" stroke="#111" stroke-width="0.6"/>
<path d="M331.90 88.00 L333.2 88.00" stroke="#111" stroke-width="0.6"/>
<path d="M331.90 84.25 L333.2 84.25" stroke="#111" stroke-width="0.6"/>
<path d="M330.80 80.50 L333.2 80.50" stroke="#111" stroke-width="0.6"/>
<path d="M331.90 76.75 L333.2 76.75" stroke="#111" stroke-width="0.6"/>
<path d="M331.90 73.00 L333.2 73.00" stroke="#111" stroke-width="0.6"/>
<path d="M331.90 69.25 L333.2 69.25" stroke="#111" stroke-width="0.6"/>
<path d="M330.80 65.50 L333.2 65.50" stroke="#111" stroke-width="0.6"/>
<path d="M331.90 61.75 L333.2 61.75" stroke="#111" stroke-width="0.6"/>
<path d="M331.90 58.00 L333.2 58.00" stroke="#111" stroke-width="0.6"/>
<path d="M331.90 54.25 L333.2 54.25" stroke="#111" stroke-width="0.6"/>
<path d="M330.80 50.50 L333.2 50.50" stroke="#111" stroke-width="0.6"/>
<text transform="translate(328.9 125.50) rotate(-90)" font-size="5.4" text-anchor="middle" font-weight="bold" fill="#222">0</text>
<text transform="translate(328.9 110.50) rotate(-90)" font-size="5.4" text-anchor="middle" font-weight="bold" fill="#222">40</text>
<text transform="translate(328.9 95.50) rotate(-90)" font-size="5.4" text-anchor="middle" font-weight="bold" fill="#222">80</text>
<text transform="translate(328.9 80.50) rotate(-90)" font-size="5.4" text-anchor="middle" font-weight="bold" fill="#222">120</text>
<text transform="translate(328.9 65.50) rotate(-90)" font-size="5.4" text-anchor="middle" font-weight="bold" fill="#222">160</text>
<text transform="translate(328.9 50.50) rotate(-90)" font-size="5.4" text-anchor="middle" font-weight="bold" fill="#222">200</text>
<text x="329.00" y="134.6" font-size="5.6" font-weight="bold" fill="#222">10<tspan font-size="4.2" dy="-2.3">0</tspan></text>
<text x="354.90" y="134.6" font-size="5.6" font-weight="bold" fill="#222">10<tspan font-size="4.2" dy="-2.3">1</tspan></text>
<text x="380.80" y="134.6" font-size="5.6" font-weight="bold" fill="#222">10<tspan font-size="4.2" dy="-2.3">2</tspan></text>
<text x="406.70" y="134.6" font-size="5.6" font-weight="bold" fill="#222">10<tspan font-size="4.2" dy="-2.3">3</tspan></text>
<text x="432.60" y="134.6" font-size="5.6" font-weight="bold" fill="#222">10<tspan font-size="4.2" dy="-2.3">4</tspan></text>
<text transform="translate(318.8 108.8) rotate(-90)" font-size="12.8" fill="#111">Counts</text>
<text x="328.7" y="146.7" font-size="12.4" text-anchor="start" font-weight="normal" fill="#111">GFP (NF-κB activity)</text>
<rect x="446.7" y="78.1" width="5.2" height="5.6" fill="#c8c8c8" stroke="#222" stroke-width="1.7"/>
<text x="458" y="83.9" font-size="12.2" text-anchor="start" font-weight="normal" fill="#111">ctrl</text>
<rect x="445.6" y="88.8" width="9" height="4.8" fill="#111"/>
<text x="458" y="94.6" font-size="12.1" text-anchor="start" font-weight="normal" fill="#111">anisomycin</text>
<path d="M445.4 103 L454.8 103" stroke="#111" stroke-width="2" stroke-dasharray="1.75 0.75"/>
<text x="458" y="106.3" font-size="12.2" text-anchor="start" font-weight="normal" fill="#111">TNFα</text>
<text x="447.6" y="192.6" font-size="9.1" text-anchor="start" font-weight="normal" fill="#111">nuclear</text>
<text x="482" y="192.6" font-size="9.5" text-anchor="start" font-weight="normal" fill="#111">cytosolic</text>
<path d="M444.6 196.8 L479 196.8 M481.3 196.8 L520 196.8" stroke="#111" stroke-width="1.3"/>
<text transform="translate(454.0 230.4) rotate(-90)" font-size="10.3" fill="#111">n.s</text>
<text transform="translate(465.6 230.4) rotate(-90)" font-size="10.3" fill="#111">CD40L</text>
<text transform="translate(476.90000000000003 230.4) rotate(-90)" font-size="10.3" fill="#111">LPS</text>
<text transform="translate(489.0 230.4) rotate(-90)" font-size="10.3" fill="#111">n.s</text>
<text transform="translate(500.0 230.4) rotate(-90)" font-size="10.3" fill="#111">CD40L</text>
<text transform="translate(512.6 230.4) rotate(-90)" font-size="10.3" fill="#111">LPS</text>
<text x="416.2" y="243" font-size="11.8" text-anchor="start" font-weight="normal" fill="#111">RelB</text>
<text x="416.2" y="257.5" font-size="11.8" text-anchor="start" font-weight="normal" fill="#111">actin</text>
<rect x="446.5" y="238.1" width="9.0" height="3.2" rx="1.6" fill="#000" opacity="0.8" filter="url(#b2)" transform="rotate(0 451.0 239.7)"/>
<rect x="457.3" y="236.5" width="10.399999999999977" height="6.2" rx="3.1" fill="#000" opacity="1" filter="url(#b2)" transform="rotate(0 462.5 239.6)"/>
<rect x="468.8" y="236.89999999999998" width="10.899999999999977" height="5.6" rx="2.8" fill="#000" opacity="1" filter="url(#b2)" transform="rotate(0 474.25 239.7)"/>
<rect x="482.5" y="238.9" width="7.5" height="2.4" rx="1.2" fill="#000" opacity="0.42" filter="url(#b2)" transform="rotate(0 486.25 240.1)"/>
<rect x="493.3" y="238.6" width="7.899999999999977" height="2.6" rx="1.3" fill="#000" opacity="0.55" filter="url(#b2)" transform="rotate(0 497.25 239.9)"/>
<rect x="504.8" y="237.4" width="12.599999999999966" height="4.4" rx="2.2" fill="#000" opacity="1" filter="url(#b2)" transform="rotate(0 511.1 239.6)"/>
<rect x="480.8" y="252.1" width="11.199999999999989" height="4.6" rx="2.3" fill="#000" opacity="1" filter="url(#b2)" transform="rotate(0 486.4 254.4)"/>
<rect x="493.2" y="252.1" width="10.600000000000023" height="4.6" rx="2.3" fill="#000" opacity="1" filter="url(#b2)" transform="rotate(0 498.5 254.4)"/>
<rect x="505.7" y="252.70000000000002" width="10.500000000000057" height="3.2" rx="1.6" fill="#000" opacity="0.85" filter="url(#b2)" transform="rotate(0 510.95000000000005 254.3)"/>
<rect x="447" y="251.4" width="31" height="0.8" rx="0.4" fill="#000" opacity="0.06" filter="url(#b2)" transform="rotate(0 462.5 251.8)"/>
</g>
</svg>
</body></html>
